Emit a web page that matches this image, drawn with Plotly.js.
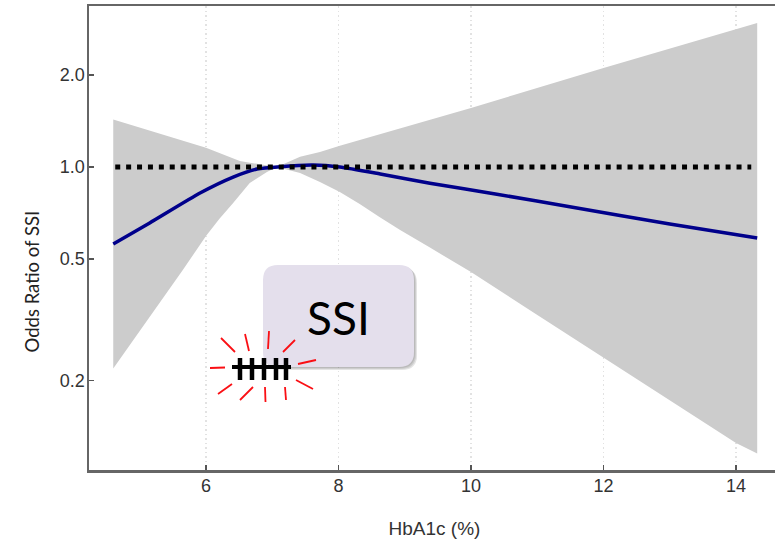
<!DOCTYPE html>
<html>
<head>
<meta charset="utf-8">
<script src="https://cdn.plot.ly/plotly-3.0.1.min.js"></script>
<style>html,body{margin:0;padding:0;background:#fff;overflow:hidden;width:775px;height:542px}</style>
</head>
<body>
<div id="chart"></div>
<script>
// Data
const upperX = [4.6, 6.0, 6.51, 6.92, 7.07, 7.42, 7.72, 8.02, 10.0, 12.0, 14.32];
const upperOR = [1.43, 1.157, 1.046, 1.008, 1.0, 1.081, 1.12, 1.174, 1.56, 2.108, 2.96];
const lowerX = [4.6, 5.65, 6.0, 6.2, 6.41, 6.66, 6.92, 7.07, 7.42, 7.72, 8.02, 8.32, 8.63, 8.93, 9.38, 10.0, 10.89, 13.0, 14.0, 14.32];
const lowerOR = [0.219, 0.46, 0.595, 0.676, 0.762, 0.886, 0.963, 1.0, 0.956, 0.893, 0.828, 0.757, 0.684, 0.622, 0.545, 0.453, 0.34, 0.173, 0.125, 0.1155];
const lineX = [4.6, 5.15, 5.91, 6.41, 6.77, 7.12, 7.62, 8.02, 8.63, 9.38, 10.39, 11.49, 13.0, 14.32];
const lineOR = [0.56, 0.656, 0.822, 0.927, 0.985, 1.003, 1.015, 1.0, 0.949, 0.885, 0.815, 0.741, 0.651, 0.586];
const refX = [4.63, 14.23];
const refOR = [1, 1];
const xTicks = [6, 8, 10, 12, 14];
const yTicks = [0.2, 0.5, 1, 2];
const yTickLabels = ['0.2', '0.5', '1.0', '2.0'];

// Pixel geometry of the page furniture
const W = 780, H = 542, L = 89, T = 6, B = 72;
const plotW = W - L, plotH = H - T - B;
const px = v => (v - L) / plotW;
const py = v => 1 - (v - T) / plotH;

const box = {x0: 263, x1: 414, y0: 265, y1: 367, r: 15};
const rays = [[210,368,225,367.5],[221,338,235,352],[245,334,249,351],[269,331,268,349],[295,340,283,352],
  [316,360,298,364],[313,389,296,380],[285,387,286,400],[265,387,265.5,402],[253,387,240,400],[232,384,218,394]];
const tallyBar = [232, 367, 291, 367];
const tallyX = [240, 252, 264, 276, 286];

function roundedPath(b, d) {
  const a0 = px(b.x0 + d), a1 = px(b.x1 + d), c0 = py(b.y0 + d), c1 = py(b.y1 + d);
  const rx = b.r / plotW, ry = b.r / plotH;
  return `M ${a0 + rx} ${c0} L ${a1 - rx} ${c0} Q ${a1} ${c0} ${a1} ${c0 - ry} L ${a1} ${c1 + ry} Q ${a1} ${c1} ${a1 - rx} ${c1} L ${a0 + rx} ${c1} Q ${a0} ${c1} ${a0} ${c1 + ry} L ${a0} ${c0 - ry} Q ${a0} ${c0} ${a0 + rx} ${c0} Z`;
}
function seg(s, color, width) {
  return {type: 'line', xref: 'paper', yref: 'paper', x0: px(s[0]), y0: py(s[1]), x1: px(s[2]), y1: py(s[3]),
    line: {color: color, width: width}};
}
const shapes = [
  {type: 'line', xref: 'paper', yref: 'y', x0: 0, x1: 1, y0: 0, y1: 0, layer: 'below',
   line: {color: '#e4e4e4', width: 1.5, dash: '1.5px,3px'}}
];
[3, 2, 1].forEach(d => shapes.push({type: 'path', xref: 'paper', yref: 'paper', path: roundedPath(box, d),
  fillcolor: 'rgba(90,90,90,0.16)', line: {width: 0}}));
shapes.push({type: 'path', xref: 'paper', yref: 'paper', path: roundedPath(box, 0), fillcolor: '#e4dfec', line: {width: 0}});
rays.forEach(r => shapes.push(seg(r, '#fa0f14', 1.8)));
shapes.push(seg(tallyBar, '#000000', 4));
tallyX.forEach(x => shapes.push(seg([x, 358, x, 380], '#000000', 4.5)));

const traces = [
  {x: lowerX, y: lowerOR, mode: 'lines', line: {width: 0, color: '#cccccc'}, hoverinfo: 'skip', showlegend: false},
  {x: upperX, y: upperOR, mode: 'lines', fill: 'tonexty', fillcolor: '#cccccc', line: {width: 0, color: '#cccccc'}, hoverinfo: 'skip', showlegend: false},
  {x: lineX, y: lineOR, mode: 'lines', line: {color: '#00008b', width: 3.5, shape: 'spline', smoothing: 0.6}, showlegend: false},
  {x: refX, y: refOR, mode: 'lines', line: {color: '#000000', width: 5, dash: '5px,5.9px'}, showlegend: false}
];

const layout = {
  width: W, height: H,
  margin: {l: L, r: 0, t: T, b: B, pad: 0},
  paper_bgcolor: '#ffffff', plot_bgcolor: '#ffffff',
  font: {family: '"Liberation Sans", Arial, sans-serif', size: 18, color: '#333333'},
  showlegend: false,
  xaxis: {
    range: [4.234, 14.664],
    tickmode: 'array', tickvals: xTicks, ticktext: xTicks.map(String),
    ticks: 'inside', ticklen: 5, tickwidth: 1.5, tickcolor: '#555555',
    showgrid: true, gridcolor: '#e2e2e2', gridwidth: 1.5, griddash: '1.5px,3px', zeroline: false,
    showline: true, linecolor: '#666666', linewidth: 2.5, mirror: true,
    tickfont: {size: 18, color: '#333333'}, ticklabelstandoff: -2,
    title: {text: 'HbA1c (%)', standoff: 27, font: {size: 19, color: '#333333'}}
  },
  yaxis: {
    type: 'log', range: [-0.9915, 0.527],
    tickmode: 'array', tickvals: yTicks, ticktext: yTickLabels,
    ticks: 'inside', ticklen: 5, tickwidth: 1.5, tickcolor: '#555555',
    showgrid: false, zeroline: false,
    showline: true, linecolor: '#666666', linewidth: 2.5, mirror: true,
    tickfont: {size: 18, color: '#333333'}, ticklabelstandoff: -2
  },
  shapes: shapes,
  annotations: [{
    xref: 'paper', yref: 'paper', x: px(338), y: py(317), xanchor: 'center', yanchor: 'middle', showarrow: false,
    text: 'SSI', font: {family: 'Lato, sans-serif', size: 46, color: '#000000'}
  }, {
    xref: 'paper', yref: 'paper', x: px(31.5), y: py(282), xanchor: 'center', yanchor: 'middle', showarrow: false,
    textangle: -90, text: 'Odds Ratio of SSI', font: {family: 'Lato, sans-serif', size: 18.5, color: '#222222'}
  }]
};
Plotly.newPlot('chart', traces, layout, {displayModeBar: false, staticPlot: true});
</script>
</body>
</html>
